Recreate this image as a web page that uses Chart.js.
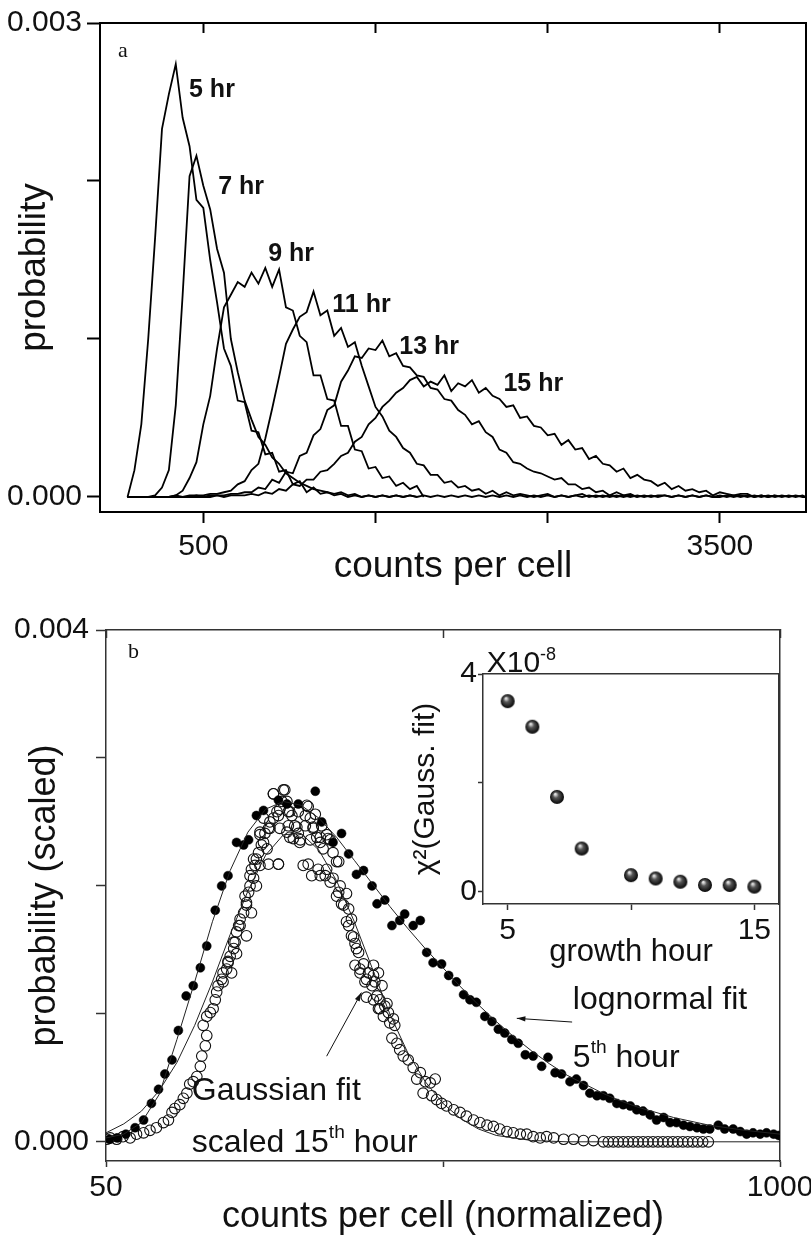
<!DOCTYPE html>
<html>
<head>
<meta charset="utf-8">
<script src="https://cdn.jsdelivr.net/npm/chart.js@4.4.1/dist/chart.umd.min.js"></script>
<style>
  body { margin: 0; background: #fff; overflow: hidden; }
  #wrap { position: relative; width: 811px; height: 1235px; }
  canvas { position: absolute; }
</style>
</head>
<body>
<div id="wrap">
  <canvas id="chart-a" width="811" height="600" style="left:0;top:0"></canvas>
  <canvas id="chart-b" width="811" height="635" style="left:0;top:600px"></canvas>
  <canvas id="chart-inset" width="411" height="330" style="left:400px;top:640px"></canvas>
</div>
<script>
const FONT = '"Liberation Sans", Arial, Helvetica, sans-serif';
Chart.defaults.font.family = FONT;
Chart.defaults.color = '#111';

// ---- panel a: histograms of counts per cell ----
const countsA = [
  60, 100, 140, 180, 220, 260, 300, 340, 380, 420,
  460, 500, 540, 580, 620, 660, 700, 740, 780, 820,
  860, 900, 940, 980, 1020, 1060, 1100, 1140, 1180, 1220,
  1260, 1300, 1340, 1380, 1420, 1460, 1500, 1540, 1580, 1620,
  1660, 1700, 1740, 1780, 1820, 1860, 1900, 1940, 1980, 2020,
  2060, 2100, 2140, 2180, 2220, 2260, 2300, 2340, 2380, 2420,
  2460, 2500, 2540, 2580, 2620, 2660, 2700, 2740, 2780, 2820,
  2860, 2900, 2940, 2980, 3020, 3060, 3100, 3140, 3180, 3220,
  3260, 3300, 3340, 3380, 3420, 3460, 3500, 3540, 3580, 3620,
  3660, 3700, 3740, 3780, 3820, 3860, 3900, 3940, 3980, 4000
];
const hr5 = [
  0, 0.17e-3, 0.46e-3, 1.00e-3, 1.64e-3, 2.33e-3, 2.55e-3, 2.74e-3, 2.40e-3, 2.22e-3,
  1.88e-3, 1.83e-3, 1.50e-3, 1.23e-3, 0.94e-3, 0.83e-3, 0.61e-3, 0.60e-3, 0.42e-3, 0.41e-3,
  0.27e-3, 0.28e-3, 0.16e-3, 0.17e-3, 0.08e-3, 0.10e-3, 0.03e-3, 0.06e-3, 0.02e-3, 0.03e-3,
  0.01e-3, 0.02e-3, 0, 0.01e-3, 0, 0.01e-3, 0, 0.01e-3, 0, 0.01e-3,
  0, 0.01e-3, 0
];
const hr7 = [
  0, 0, 0, 0, 0.01e-3, 0.06e-3, 0.17e-3, 0.58e-3, 1.28e-3, 2.03e-3,
  2.16e-3, 1.97e-3, 1.82e-3, 1.57e-3, 1.42e-3, 1.00e-3, 0.79e-3, 0.61e-3, 0.49e-3, 0.38e-3,
  0.33e-3, 0.25e-3, 0.21e-3, 0.15e-3, 0.12e-3, 0.09e-3, 0.07e-3, 0.05e-3, 0.04e-3, 0.03e-3,
  0.02e-3, 0.03e-3, 0.01e-3, 0.02e-3, 0, 0.01e-3, 0, 0.01e-3, 0, 0.01e-3,
  0, 0.01e-3, 0, 0.01e-3, 0, 0.01e-3, 0, 0.01e-3, 0, 0.01e-3,
  0, 0.01e-3, 0, 0.01e-3, 0, 0.01e-3, 0, 0.01e-3, 0, 0.01e-3,
  0, 0.01e-3, 0, 0.01e-3, 0, 0.01e-3, 0, 0.01e-3, 0, 0.01e-3,
  0, 0.01e-3, 0, 0.01e-3, 0
];
const hr9 = [
  0, 0, 0, 0, 0, 0, 0, 0.01e-3, 0.04e-3, 0.12e-3,
  0.22e-3, 0.46e-3, 0.64e-3, 0.94e-3, 1.20e-3, 1.28e-3, 1.36e-3, 1.33e-3, 1.42e-3, 1.35e-3,
  1.45e-3, 1.33e-3, 1.44e-3, 1.20e-3, 1.18e-3, 1.02e-3, 0.98e-3, 0.77e-3, 0.77e-3, 0.62e-3,
  0.61e-3, 0.45e-3, 0.45e-3, 0.30e-3, 0.29e-3, 0.18e-3, 0.19e-3, 0.12e-3, 0.13e-3, 0.07e-3,
  0.09e-3, 0.05e-3, 0.07e-3, 0
];
const hr11 = [
  0, 0, 0, 0, 0, 0, 0, 0.01e-3, 0, 0.01e-3,
  0.01e-3, 0.01e-3, 0.02e-3, 0.02e-3, 0.03e-3, 0.04e-3, 0.08e-3, 0.10e-3, 0.17e-3, 0.21e-3,
  0.37e-3, 0.56e-3, 0.76e-3, 0.97e-3, 1.06e-3, 1.14e-3, 1.17e-3, 1.30e-3, 1.15e-3, 1.18e-3,
  1.02e-3, 1.07e-3, 0.95e-3, 0.98e-3, 0.83e-3, 0.70e-3, 0.57e-3, 0.51e-3, 0.42e-3, 0.38e-3,
  0.31e-3, 0.28e-3, 0.21e-3, 0.20e-3, 0.14e-3, 0.14e-3, 0.09e-3, 0.10e-3, 0.06e-3, 0.07e-3,
  0.04e-3, 0.05e-3, 0.02e-3, 0.04e-3, 0.01e-3, 0.03e-3, 0.01e-3, 0.02e-3, 0.01e-3, 0,
  0.01e-3, 0.02e-3, 0, 0.01e-3, 0, 0.01e-3, 0.02e-3, 0, 0.01e-3, 0,
  0.01e-3, 0, 0.01e-3, 0, 0.01e-3, 0, 0.01e-3, 0, 0.01e-3, 0,
  0.01e-3, 0, 0.01e-3, 0, 0.01e-3, 0, 0.01e-3, 0, 0.01e-3, 0,
  0.01e-3, 0, 0.01e-3, 0, 0.01e-3
];
const hr13 = [
  0, 0, 0, 0, 0, 0, 0, 0, 0, 0,
  0.01e-3, 0, 0.01e-3, 0.01e-3, 0.01e-3, 0.02e-3, 0.02e-3, 0.03e-3, 0.03e-3, 0.06e-3,
  0.05e-3, 0.11e-3, 0.09e-3, 0.16e-3, 0.15e-3, 0.26e-3, 0.28e-3, 0.39e-3, 0.43e-3, 0.55e-3,
  0.58e-3, 0.73e-3, 0.80e-3, 0.89e-3, 0.88e-3, 0.94e-3, 0.93e-3, 0.99e-3, 0.89e-3, 0.91e-3,
  0.83e-3, 0.82e-3, 0.77e-3, 0.76e-3, 0.69e-3, 0.68e-3, 0.62e-3, 0.61e-3, 0.55e-3, 0.52e-3,
  0.46e-3, 0.48e-3, 0.41e-3, 0.38e-3, 0.30e-3, 0.28e-3, 0.22e-3, 0.21e-3, 0.18e-3, 0.16e-3,
  0.15e-3, 0.13e-3, 0.11e-3, 0.12e-3, 0.08e-3, 0.08e-3, 0.05e-3, 0.06e-3, 0.03e-3, 0.04e-3,
  0.01e-3, 0.03e-3, 0.01e-3, 0.02e-3, 0, 0.01e-3, 0, 0.01e-3, 0.01e-3, 0,
  0.01e-3, 0, 0.01e-3, 0, 0.01e-3, 0, 0, 0.01e-3, 0, 0.01e-3,
  0, 0.01e-3, 0, 0.01e-3, 0, 0.01e-3, 0, 0.01e-3, 0, 0
];
const hr15 = [
  0, 0, 0, 0, 0, 0, 0, 0, 0, 0,
  0, 0, 0, 0.01e-3, 0, 0.01e-3, 0.01e-3, 0.01e-3, 0.02e-3, 0.01e-3,
  0.03e-3, 0.02e-3, 0.05e-3, 0.04e-3, 0.08e-3, 0.07e-3, 0.11e-3, 0.11e-3, 0.16e-3, 0.17e-3,
  0.21e-3, 0.26e-3, 0.28e-3, 0.35e-3, 0.38e-3, 0.46e-3, 0.50e-3, 0.57e-3, 0.61e-3, 0.66e-3,
  0.69e-3, 0.74e-3, 0.76e-3, 0.70e-3, 0.73e-3, 0.71e-3, 0.77e-3, 0.67e-3, 0.72e-3, 0.70e-3,
  0.74e-3, 0.66e-3, 0.69e-3, 0.64e-3, 0.62e-3, 0.57e-3, 0.58e-3, 0.50e-3, 0.51e-3, 0.45e-3,
  0.44e-3, 0.39e-3, 0.40e-3, 0.33e-3, 0.36e-3, 0.30e-3, 0.31e-3, 0.24e-3, 0.26e-3, 0.21e-3,
  0.20e-3, 0.16e-3, 0.18e-3, 0.12e-3, 0.14e-3, 0.11e-3, 0.10e-3, 0.07e-3, 0.09e-3, 0.05e-3,
  0.07e-3, 0.04e-3, 0.05e-3, 0.03e-3, 0.04e-3, 0.01e-3, 0.03e-3, 0.02e-3, 0.01e-3, 0.02e-3,
  0.02e-3, 0, 0.01e-3, 0, 0.01e-3, 0, 0.01e-3, 0, 0.01e-3, 0
];
const hourNames = ['5 hr', '7 hr', '9 hr', '11 hr', '13 hr', '15 hr'];
const xTicksA = [500, 1500, 2500, 3500];
const xTickLabelsA = ['500', '', '', '3500'];
const yTicksA = [0, 0.001, 0.002, 0.003];
const yTickLabelsA = ['0.000', '', '', '0.003'];

// ---- panel b: 5th hour vs scaled 15th hour ----
const fifthX = [
  55, 66, 78, 91, 103, 114, 124, 133, 143, 152,
  163, 173, 183, 192, 204, 213, 222, 234, 244, 251,
  262, 272, 293, 305, 321, 345, 354, 370, 382, 392,
  403, 413, 425, 432, 443, 453, 464, 471, 483, 493,
  502, 511, 523, 533, 544, 554, 563, 572, 584, 594,
  603, 612, 622, 631, 641, 652, 664, 673, 683, 692,
  704, 713, 723, 732, 742, 751, 760, 770, 779, 789,
  798, 807, 817, 826, 836, 845, 854, 864, 873, 883,
  892, 901, 913, 922, 934, 944, 953, 962, 972, 981,
  991, 998
];
const fifthP = [
  0.02e-3, 0.03e-3, 0.06e-3, 0.11e-3, 0.17e-3, 0.30e-3, 0.41e-3, 0.53e-3, 0.64e-3, 0.87e-3,
  1.14e-3, 1.22e-3, 1.36e-3, 1.53e-3, 1.81e-3, 2.00e-3, 2.08e-3, 2.34e-3, 2.32e-3, 2.36e-3,
  2.55e-3, 2.59e-3, 2.67e-3, 2.64e-3, 2.64e-3, 2.74e-3, 2.50e-3, 2.34e-3, 2.41e-3, 2.25e-3,
  2.09e-3, 2.12e-3, 2.00e-3, 1.86e-3, 1.89e-3, 1.69e-3, 1.73e-3, 1.78e-3, 1.69e-3, 1.73e-3,
  1.48e-3, 1.40e-3, 1.39e-3, 1.30e-3, 1.25e-3, 1.15e-3, 1.11e-3, 1.09e-3, 0.98e-3, 0.94e-3,
  0.88e-3, 0.85e-3, 0.80e-3, 0.77e-3, 0.68e-3, 0.67e-3, 0.59e-3, 0.66e-3, 0.54e-3, 0.53e-3,
  0.47e-3, 0.49e-3, 0.44e-3, 0.38e-3, 0.36e-3, 0.36e-3, 0.34e-3, 0.30e-3, 0.29e-3, 0.28e-3,
  0.25e-3, 0.24e-3, 0.21e-3, 0.17e-3, 0.19e-3, 0.15e-3, 0.15e-3, 0.13e-3, 0.12e-3, 0.11e-3,
  0.10e-3, 0.10e-3, 0.13e-3, 0.10e-3, 0.10e-3, 0.08e-3, 0.06e-3, 0.07e-3, 0.06e-3, 0.07e-3,
  0.06e-3, 0.05e-3
];
const fifteenX = [
  51, 56, 65, 74, 84, 93, 103, 112, 121, 131,
  138, 143, 147, 154, 159, 164, 168, 173, 178, 183,
  185, 187, 190, 192, 192, 197, 201, 204, 206, 208,
  213, 215, 220, 222, 225, 230, 232, 234, 237, 239,
  244, 246, 248, 251, 253, 255, 258, 260, 262, 265,
  267, 269, 272, 274, 279, 281, 286, 286, 291, 293,
  295, 298, 300, 305, 307, 312, 314, 316, 321, 323,
  331, 335, 335, 338, 342, 347, 349, 352, 356, 359,
  361, 366, 370, 370, 375, 378, 380, 382, 389, 392,
  392, 396, 399, 401, 401, 406, 408, 413, 417, 417,
  427, 427, 427, 429, 434, 434, 436, 439, 443, 448,
  450, 453, 457, 460, 464, 469, 476, 483, 488, 493,
  497, 500, 507, 509, 514, 516, 523, 530, 540, 549,
  558, 568, 577, 587, 596, 605, 615, 624, 634, 643,
  652, 662, 671, 681, 695, 709, 723, 737, 751, 758,
  765, 772, 779, 786, 793, 800, 807, 814, 821, 828,
  835, 842, 849, 856, 863, 870, 877, 884, 891, 899,
  286, 302, 272, 293, 305, 309, 321, 333, 345, 281,
  295, 307, 319, 331, 342, 354, 309, 324, 338, 352,
  363, 267, 277, 258, 253, 267, 279, 293, 328, 340,
  352, 361, 375, 262, 248, 255, 239, 248, 230, 234,
  222, 227, 215, 366, 378, 385, 389, 396, 403, 408,
  420, 425, 415, 432, 436, 446, 441, 455
];
const fifteenP = [
  0.02e-3, 0.03e-3, 0.02e-3, 0.04e-3, 0.03e-3, 0.06e-3, 0.07e-3, 0.09e-3, 0.11e-3, 0.15e-3,
  0.17e-3, 0.23e-3, 0.26e-3, 0.29e-3, 0.34e-3, 0.38e-3, 0.45e-3, 0.47e-3, 0.51e-3, 0.59e-3,
  0.67e-3, 0.91e-3, 0.75e-3, 0.83e-3, 0.98e-3, 1.01e-3, 1.04e-3, 1.11e-3, 1.17e-3, 1.22e-3,
  1.27e-3, 1.32e-3, 1.35e-3, 1.41e-3, 1.45e-3, 1.51e-3, 1.56e-3, 1.64e-3, 1.69e-3, 1.74e-3,
  1.79e-3, 1.92e-3, 1.85e-3, 1.95e-3, 2.00e-3, 2.13e-3, 2.06e-3, 2.16e-3, 2.21e-3, 2.26e-3,
  2.42e-3, 2.32e-3, 2.34e-3, 2.41e-3, 2.45e-3, 2.50e-3, 2.53e-3, 2.72e-3, 2.58e-3, 2.17e-3,
  2.60e-3, 2.66e-3, 2.75e-3, 2.42e-3, 2.58e-3, 2.55e-3, 2.37e-3, 2.47e-3, 2.41e-3, 2.34e-3,
  2.55e-3, 2.62e-3, 2.17e-3, 2.53e-3, 2.45e-3, 2.38e-3, 2.13e-3, 2.34e-3, 2.29e-3, 2.08e-3,
  2.40e-3, 2.36e-3, 2.26e-3, 2.06e-3, 1.92e-3, 2.19e-3, 2.00e-3, 1.86e-3, 1.94e-3, 1.82e-3,
  1.69e-3, 1.74e-3, 1.60e-3, 1.55e-3, 1.38e-3, 1.48e-3, 1.32e-3, 1.39e-3, 1.27e-3, 1.13e-3,
  1.30e-3, 1.11e-3, 1.38e-3, 1.25e-3, 1.04e-3, 1.32e-3, 1.11e-3, 1.22e-3, 1.06e-3, 1.01e-3,
  0.93e-3, 0.81e-3, 0.91e-3, 0.77e-3, 0.72e-3, 0.67e-3, 0.64e-3, 0.58e-3, 0.49e-3, 0.54e-3,
  0.38e-3, 0.47e-3, 0.46e-3, 0.36e-3, 0.49e-3, 0.33e-3, 0.30e-3, 0.28e-3, 0.25e-3, 0.23e-3,
  0.20e-3, 0.17e-3, 0.15e-3, 0.13e-3, 0.12e-3, 0.10e-3, 0.08e-3, 0.07e-3, 0.06e-3, 0.06e-3,
  0.04e-3, 0.03e-3, 0.04e-3, 0.03e-3, 0.02e-3, 0.02e-3, 0.01e-3, 0.01e-3, 0, 0,
  0, 0, 0, 0, 0, 0, 0, 0, 0, 0,
  0, 0, 0, 0, 0, 0, 0, 0, 0, 0,
  2.72e-3, 2.75e-3, 2.53e-3, 2.55e-3, 2.66e-3, 2.58e-3, 2.58e-3, 2.63e-3, 2.56e-3, 2.45e-3,
  2.45e-3, 2.47e-3, 2.46e-3, 2.47e-3, 2.46e-3, 2.47e-3, 2.38e-3, 2.36e-3, 2.36e-3, 2.38e-3,
  2.37e-3, 2.40e-3, 2.29e-3, 2.21e-3, 2.08e-3, 2.16e-3, 2.17e-3, 2.17e-3, 2.16e-3, 2.08e-3,
  2.08e-3, 2.13e-3, 2.19e-3, 2.00e-3, 1.87e-3, 1.79e-3, 1.69e-3, 1.61e-3, 1.56e-3, 1.47e-3,
  1.40e-3, 1.32e-3, 1.25e-3, 2.03e-3, 1.95e-3, 1.85e-3, 1.72e-3, 1.61e-3, 1.51e-3, 1.35e-3,
  1.32e-3, 1.22e-3, 1.25e-3, 1.14e-3, 1.04e-3, 1.08e-3, 0.98e-3, 0.96e-3
];
const lognormX = [50, 75, 100, 125, 150, 175, 200, 225, 250, 275, 300, 325, 350, 375, 400, 425, 450, 475,
  500, 525, 550, 575, 600, 625, 650, 675, 700, 725, 750, 775, 800, 850, 900, 950, 1000];
const lognormP = [0.03e-3, 0.06e-3, 0.15e-3, 0.37e-3, 0.80e-3, 1.25e-3, 1.72e-3, 2.12e-3, 2.42e-3, 2.60e-3,
  2.66e-3, 2.63e-3, 2.53e-3, 2.38e-3, 2.20e-3, 2.02e-3, 1.84e-3, 1.67e-3, 1.51e-3, 1.36e-3,
  1.21e-3, 1.07e-3, 0.94e-3, 0.82e-3, 0.71e-3, 0.61e-3, 0.52e-3, 0.45e-3, 0.38e-3, 0.32e-3,
  0.27e-3, 0.19e-3, 0.13e-3, 0.09e-3, 0.06e-3];
const gaussX = [50, 75, 100, 125, 150, 175, 200, 225, 250, 275, 300, 325, 350, 375, 400, 425, 450, 475,
  500, 525, 550, 575, 600, 625, 650, 700, 800, 900, 1000];
const gaussP = [0.07e-3, 0.14e-3, 0.24e-3, 0.40e-3, 0.62e-3, 0.91e-3, 1.25e-3, 1.62e-3, 1.96e-3, 2.24e-3,
  2.40e-3, 2.41e-3, 2.28e-3, 2.04e-3, 1.72e-3, 1.36e-3, 1.00e-3, 0.70e-3, 0.47e-3, 0.30e-3,
  0.18e-3, 0.10e-3, 0.05e-3, 0.03e-3, 0.01e-3, 0, 0, 0, 0];
const xTicksB = [50, 525, 1000];
const xTickLabelsB = ['50', '', '1000'];
const yTicksB = [0, 0.001, 0.002, 0.003, 0.004];
const yTickLabelsB = ['0.000', '', '', '', '0.004'];

// ---- inset: chi^2 of the Gaussian fit per growth hour (x10^-8) ----
const growthHours = [5, 6, 7, 8, 10, 11, 12, 13, 14, 15];
const chi2Gauss = [3.50, 3.03, 1.74, 0.79, 0.30, 0.24, 0.18, 0.12, 0.12, 0.09];
const xTicksIn = [5, 10, 15];
const xTickLabelsIn = ['5', '', '15'];
const yTicksIn = [0, 2, 4];
const yTickLabelsIn = ['0', '', '4'];

// ---- helpers ----
const pairs = (xs, ys) => xs.map((x, i) => ({ x, y: ys[i] }));

function fixedTicks(values) {
  return scale => { scale.ticks = values.map(value => ({ value })); };
}

function fixedSize(size) {
  return scale => {
    if (scale.isHorizontal()) scale.height = size; else scale.width = size;
    scale.paddingLeft = scale.paddingRight = scale.paddingTop = scale.paddingBottom = 0;
  };
}

// top / right edge of the frame, ticks pointing inward
function frameAxis(position, min, max, ticks, tickLength, color, width) {
  return {
    type: 'linear', position, min, max,
    afterBuildTicks: fixedTicks(ticks),
    afterFit: fixedSize(0),
    ticks: { display: false },
    grid: { drawOnChartArea: false, drawTicks: tickLength !== 0, tickLength, tickColor: color, tickWidth: width },
    border: { color, width }
  };
}

function sphere(r) {
  const c = document.createElement('canvas');
  c.width = c.height = 2 * r + 2;
  const g = c.getContext('2d');
  const grad = g.createRadialGradient(r * 0.75 + 1, r * 0.6 + 1, r * 0.1, r + 1, r + 1, r);
  grad.addColorStop(0, '#e0e0e0');
  grad.addColorStop(0.35, '#555');
  grad.addColorStop(1, '#050505');
  g.fillStyle = grad;
  g.beginPath();
  g.arc(r + 1, r + 1, r, 0, Math.PI * 2);
  g.fill();
  return c;
}

// texts (with superscripts) and arrows placed in data coordinates
const notesPlugin = {
  id: 'notes',
  afterDatasetsDraw(chart, args, opts) {
    const { ctx } = chart;
    const xs = chart.scales.x, ys = chart.scales.y;
    ctx.save();
    ctx.fillStyle = '#111';
    ctx.strokeStyle = '#111';
    (opts.arrows || []).forEach(a => {
      const x1 = xs.getPixelForValue(a.from[0]), y1 = ys.getPixelForValue(a.from[1]);
      const x2 = xs.getPixelForValue(a.to[0]), y2 = ys.getPixelForValue(a.to[1]);
      ctx.lineWidth = 1;
      ctx.beginPath(); ctx.moveTo(x1, y1); ctx.lineTo(x2, y2); ctx.stroke();
      const ang = Math.atan2(y2 - y1, x2 - x1);
      ctx.beginPath();
      ctx.moveTo(x2, y2);
      ctx.lineTo(x2 - 9 * Math.cos(ang - 0.3), y2 - 9 * Math.sin(ang - 0.3));
      ctx.lineTo(x2 - 9 * Math.cos(ang + 0.3), y2 - 9 * Math.sin(ang + 0.3));
      ctx.closePath(); ctx.fill();
    });
    (opts.texts || []).forEach(t => {
      let x = xs.getPixelForValue(t.at[0]);
      const y = ys.getPixelForValue(t.at[1]);
      ctx.textBaseline = 'alphabetic';
      ctx.textAlign = 'left';
      t.parts.forEach(p => {
        const size = p.sup ? t.size * 0.6 : t.size;
        ctx.font = `${t.weight || 'normal'} ${size}px ${t.family || FONT}`;
        ctx.fillText(p.text, x, p.sup ? y - t.size * 0.42 : y);
        x += ctx.measureText(p.text).width;
      });
    });
    ctx.restore();
  }
};

// ---- chart a ----
const spotsA = [[417, 2.532e-3], [586, 1.918e-3], [877, 1.494e-3], [1249, 1.171e-3], [1638, 0.905e-3], [2243, 0.671e-3]];
new Chart(document.getElementById('chart-a'), {
  type: 'line',
  data: {
    labels: countsA,
    datasets: [hr5, hr7, hr9, hr11, hr13, hr15].map((data, i) => ({
      label: hourNames[i], data, borderColor: '#000', borderWidth: 1.8, pointRadius: 0, fill: false, tension: 0
    }))
  },
  options: {
    responsive: false,
    animation: false,
    layout: { padding: { top: 23, right: 5, left: 0, bottom: 0 } },
    scales: {
      x: {
        type: 'linear', min: -100, max: 4000,
        afterBuildTicks: fixedTicks(xTicksA), afterFit: fixedSize(88),
        ticks: { callback: (v, i) => xTickLabelsA[i], font: { size: 30 }, padding: 6, maxRotation: 0, autoSkip: false },
        grid: { drawOnChartArea: false, tickLength: 11, tickColor: '#000', tickWidth: 2 },
        border: { color: '#000', width: 2 },
        title: { display: true, text: 'counts per cell', font: { size: 37, lineHeight: 1 }, padding: { top: 0, bottom: 15 } }
      },
      y: {
        type: 'linear', min: -0.000095, max: 0.003,
        afterBuildTicks: fixedTicks(yTicksA), afterFit: fixedSize(100),
        ticks: { callback: (v, i) => yTickLabelsA[i], font: { size: 30 }, padding: 5, autoSkip: false },
        grid: { drawOnChartArea: false, tickLength: 13, tickColor: '#000', tickWidth: 2 },
        border: { color: '#000', width: 2 },
        title: { display: true, text: 'probability', font: { size: 37, lineHeight: 1 }, padding: { top: 16, bottom: 0 } }
      },
      xTop: frameAxis('top', -100, 4000, xTicksA, -10, '#000', 2),
      yRight: frameAxis('right', -0.000095, 0.003, yTicksA, 0, '#000', 2)
    },
    plugins: {
      legend: { display: false },
      tooltip: { enabled: false },
      notes: {
        texts: [
          { parts: [{ text: 'a' }], at: [5, 2.785e-3], size: 22, family: '"Liberation Serif", "Times New Roman", serif' },
          ...hourNames.map((name, i) => ({ parts: [{ text: name }], at: spotsA[i], size: 25, weight: 'bold' }))
        ]
      }
    }
  },
  plugins: [notesPlugin]
});

// ---- chart b ----
new Chart(document.getElementById('chart-b'), {
  type: 'scatter',
  data: {
    datasets: [
      { label: 'lognormal fit', data: pairs(lognormX, lognormP), showLine: true, borderColor: '#222', borderWidth: 1, pointRadius: 0 },
      { label: 'Gaussian fit', data: pairs(gaussX, gaussP), showLine: true, borderColor: '#222', borderWidth: 1, pointRadius: 0 },
      { label: '5th hour', data: pairs(fifthX, fifthP), pointRadius: 4.5, backgroundColor: '#000', borderColor: '#000', pointBorderWidth: 0.5 },
      { label: 'scaled 15th hour', data: pairs(fifteenX, fifteenP), pointRadius: 5.3, backgroundColor: 'rgba(255,255,255,0)', borderColor: '#111', pointBorderWidth: 1.1 }
    ]
  },
  options: {
    responsive: false,
    animation: false,
    layout: { padding: { top: 30, right: 31, left: 0, bottom: 0 } },
    scales: {
      x: {
        type: 'linear', min: 50, max: 1000,
        afterBuildTicks: fixedTicks(xTicksB), afterFit: fixedSize(74),
        ticks: { callback: (v, i) => xTickLabelsB[i], font: { size: 30 }, padding: 3, maxRotation: 0, autoSkip: false },
        grid: { drawOnChartArea: false, tickLength: 6, tickColor: '#333', tickWidth: 1.5 },
        border: { color: '#333', width: 1.5 },
        title: { display: true, text: 'counts per cell (normalized)', font: { size: 36, lineHeight: 1 }, padding: { top: 0, bottom: 0 } }
      },
      y: {
        type: 'linear', min: -0.00015, max: 0.004,
        afterBuildTicks: fixedTicks(yTicksB), afterFit: fixedSize(106),
        ticks: { callback: (v, i) => yTickLabelsB[i], font: { size: 30 }, padding: 7, autoSkip: false },
        grid: { drawOnChartArea: false, tickLength: 10, tickColor: '#333', tickWidth: 1.5 },
        border: { color: '#333', width: 1.5 },
        title: { display: true, text: 'probability (scaled)', font: { size: 36, lineHeight: 1 }, padding: { top: 27, bottom: 0 } }
      },
      xTop: frameAxis('top', 50, 1000, xTicksB, -8, '#333', 1.5),
      yRight: frameAxis('right', -0.00015, 0.004, yTicksB, 0, '#333', 1.5)
    },
    plugins: {
      legend: { display: false },
      tooltip: { enabled: false },
      notes: {
        texts: [
          { parts: [{ text: 'b' }], at: [81, 3.78e-3], size: 22, family: '"Liberation Serif", "Times New Roman", serif' },
          { parts: [{ text: 'lognormal fit' }], at: [708, 1.035e-3], size: 32 },
          { parts: [{ text: '5' }, { text: 'th', sup: true }, { text: ' hour' }], at: [708, 0.588e-3], size: 32 },
          { parts: [{ text: 'Gaussian fit' }], at: [171, 0.329e-3], size: 32 },
          { parts: [{ text: 'scaled 15' }, { text: 'th', sup: true }, { text: ' hour' }], at: [171, -0.078e-3], size: 32 }
        ],
        arrows: [
          { from: [707, 0.936e-3], to: [629, 0.965e-3] },
          { from: [361, 0.669e-3], to: [410, 1.166e-3] }
        ]
      }
    }
  },
  plugins: [notesPlugin]
});

// ---- inset ----
new Chart(document.getElementById('chart-inset'), {
  type: 'scatter',
  data: {
    datasets: [
      { label: 'chi2', data: pairs(growthHours, chi2Gauss), pointStyle: sphere(7), pointRadius: 7 }
    ]
  },
  options: {
    responsive: false,
    animation: false,
    layout: { padding: { top: 34, right: 32, left: 0, bottom: 0 } },
    scales: {
      x: {
        type: 'linear', min: 4, max: 16,
        afterBuildTicks: fixedTicks(xTicksIn), afterFit: fixedSize(66),
        ticks: { callback: (v, i) => xTickLabelsIn[i], font: { size: 30 }, padding: 3, maxRotation: 0, autoSkip: false },
        grid: { drawOnChartArea: false, tickLength: 6, tickColor: '#333', tickWidth: 1.5 },
        border: { color: '#333', width: 1.5 },
        title: { display: true, text: 'growth hour', font: { size: 31, lineHeight: 1 }, padding: { top: 0, bottom: 2 } }
      },
      y: {
        type: 'linear', min: -0.23, max: 4,
        afterBuildTicks: fixedTicks(yTicksIn), afterFit: fixedSize(83),
        ticks: { callback: (v, i) => yTickLabelsIn[i], font: { size: 30 }, padding: 1, autoSkip: false },
        grid: { drawOnChartArea: false, tickLength: 5, tickColor: '#333', tickWidth: 1.5 },
        border: { color: '#333', width: 1.5 },
        title: { display: true, text: 'χ²(Gauss. fit)', font: { size: 30, lineHeight: 1 }, padding: { top: 11, bottom: 0 } }
      },
      xTop: frameAxis('top', 4, 16, xTicksIn, 0, '#333', 1.5),
      yRight: frameAxis('right', -0.23, 4, yTicksIn, 0, '#333', 1.5)
    },
    plugins: {
      legend: { display: false },
      tooltip: { enabled: false },
      notes: {
        texts: [
          { parts: [{ text: 'X10' }, { text: '-8', sup: true }], at: [4.15, 4.03], size: 30 }
        ]
      }
    }
  },
  plugins: [notesPlugin]
});
</script>
</body>
</html>
